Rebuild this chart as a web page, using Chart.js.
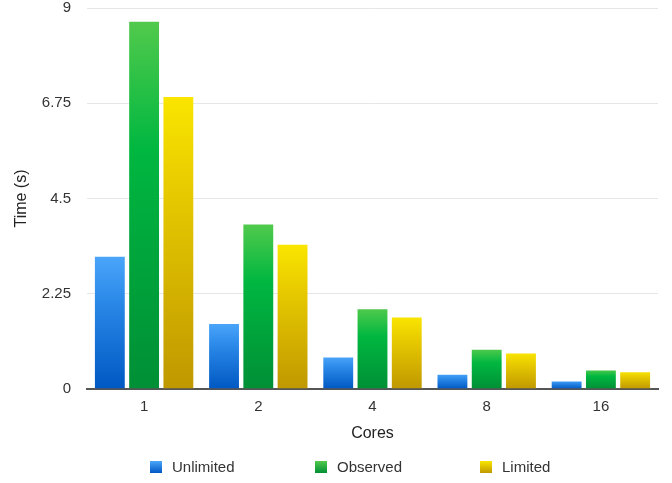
<!DOCTYPE html>
<html>
<head>
<meta charset="utf-8">
<title>Time by cores</title>
<script src="https://cdn.jsdelivr.net/npm/chart.js@4.4.1/dist/chart.umd.min.js"></script>
<style>
  html, body { margin: 0; padding: 0; background: #fff; }
  #timing { display: block; }
</style>
</head>
<body>
<canvas id="timing" width="672" height="483"></canvas>
<script>
var cores = ["1", "2", "4", "8", "16"];
var unlimited = [3.15, 1.56, 0.77, 0.36, 0.20];
var observed = [8.70, 3.91, 1.91, 0.95, 0.46];
var limited = [6.92, 3.43, 1.71, 0.86, 0.42];
var timeTicks = [0, 2.25, 4.5, 6.75, 9];

var FONT = "'Liberation Sans', Arial, Helvetica, sans-serif";

// light top -> dark bottom, one gradient per bar
var shades = {
    Unlimited: ["#4ba6fa", "#2a88e8", "#0058c2"],
    Observed:  ["#52ca4c", "#00b740", "#008f36"],
    Limited:   ["#fae600", "#e6c800", "#bf9800"]
};

function barFill(name) {
    var c = shades[name];
    return function(ctx) {
        var chart = ctx.chart;
        var y = chart.scales && chart.scales.y;
        if (!chart.chartArea || !y || ctx.type !== "data") return c[1];
        var top = y.getPixelForValue(ctx.raw);
        var bottom = y.getPixelForValue(0);
        if (!isFinite(top) || bottom - top < 1) return c[1];
        var g = chart.ctx.createLinearGradient(0, top, 0, bottom);
        g.addColorStop(0, c[0]);
        g.addColorStop(0.35, c[1]);
        g.addColorStop(1, c[2]);
        return g;
    };
}

function series(name, values) {
    return {
        label: name,
        data: values,
        backgroundColor: barFill(name),
        borderColor: "rgba(255,255,255,0.3)",
        borderWidth: 1,
        borderSkipped: "bottom",
        categoryPercentage: 0.9,
        barPercentage: 0.93
    };
}

// legend drawn by hand so the items can sit on a wide fixed pitch
var spacedLegend = {
    id: "spacedLegend",
    afterDraw: function(chart) {
        var ctx = chart.ctx;
        ctx.save();
        ctx.font = "15px " + FONT;
        ctx.textBaseline = "middle";
        ctx.textAlign = "left";
        chart.data.datasets.forEach(function(ds, i) {
            var c = shades[ds.label];
            var x = 150 + 165 * i, y = 467;
            var g = ctx.createLinearGradient(0, y - 6, 0, y + 6);
            g.addColorStop(0, c[0]);
            g.addColorStop(1, c[2]);
            ctx.fillStyle = g;
            ctx.fillRect(x, y - 6, 12, 12);
            ctx.fillStyle = "#333";
            ctx.fillText(ds.label, x + 22, y + 1);
        });
        ctx.restore();
    }
};

new Chart(document.getElementById("timing"), {
    type: "bar",
    data: {
        labels: cores,
        datasets: [
            series("Unlimited", unlimited),
            series("Observed", observed),
            series("Limited", limited)
        ]
    },
    options: {
        responsive: false,
        animation: false,
        layout: { padding: { top: 0, right: 14, bottom: 34, left: 0 } },
        plugins: {
            legend: { display: false },
            tooltip: { enabled: false }
        },
        scales: {
            x: {
                grid: { display: false, drawTicks: false },
                border: { display: true, color: "#555", width: 2 },
                ticks: { color: "#333", padding: 9, font: { family: FONT, size: 15 } },
                title: {
                    display: true,
                    text: "Cores",
                    color: "#222",
                    font: { family: FONT, size: 16 },
                    padding: { top: 0, bottom: 6 }
                },
                afterFit: function(scale) { scale.height = 60; }
            },
            y: {
                min: 0,
                max: 9,
                afterBuildTicks: function(scale) {
                    scale.ticks = timeTicks.map(function(v) { return { value: v }; });
                },
                grid: { color: "#e6e6e6", lineWidth: 1, drawTicks: false },
                border: { display: false },
                ticks: {
                    color: "#333",
                    padding: 16,
                    font: { family: FONT, size: 15 },
                    callback: function(v) { return String(v); }
                },
                title: {
                    display: true,
                    text: "Time (s)",
                    color: "#222",
                    font: { family: FONT, size: 16 },
                    padding: { top: 12, bottom: 0 }
                },
                afterFit: function(scale) {
                    scale.width = 87;
                    // label padding would otherwise push the plot top down
                    scale.paddingTop = 8;
                    scale.paddingBottom = 0;
                }
            }
        }
    },
    plugins: [spacedLegend]
});
</script>
</body>
</html>
